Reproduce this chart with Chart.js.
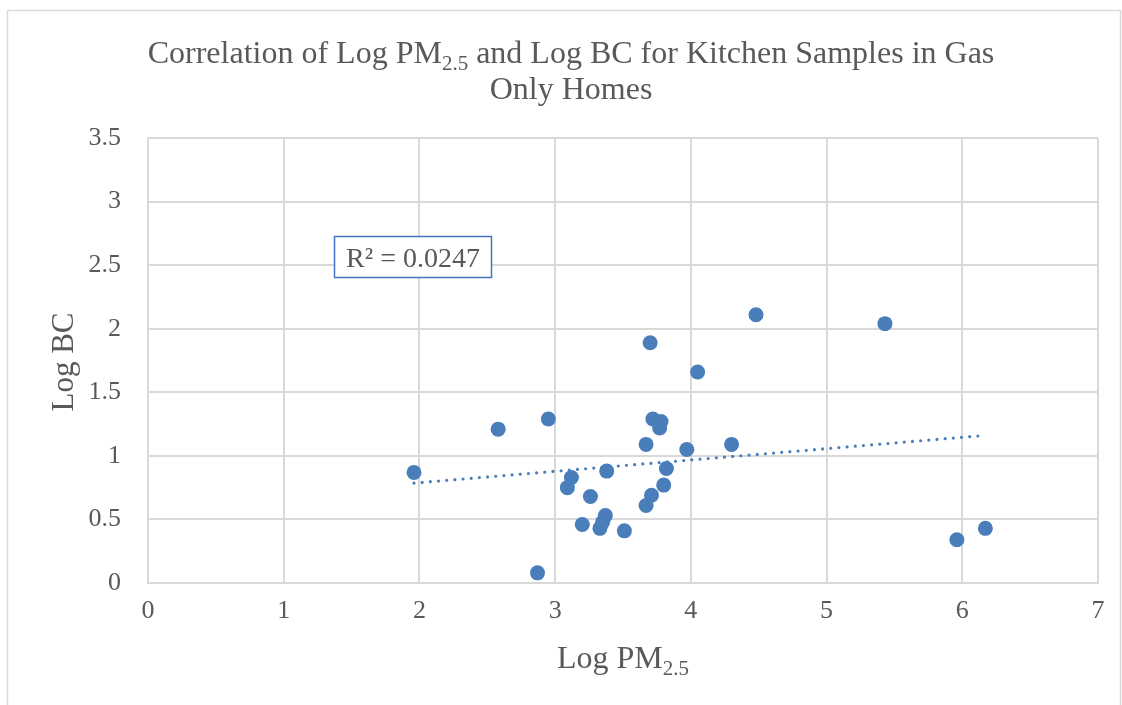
<!DOCTYPE html>
<html>
<head>
<meta charset="utf-8">
<script src="https://cdn.jsdelivr.net/npm/chart.js@4.4.1/dist/chart.umd.min.js"></script>
<style>
  html, body { margin: 0; background: #fff; }
  #wrap { width: 1122px; height: 705px; }
</style>
</head>
<body>
<div id="wrap"><canvas id="chart" width="1122" height="705"></canvas></div>
<script>
// ── Data ─────────────────────────────────────────────────────────────────────
const logPM = [1.96, 2.58, 2.95, 2.87, 3.72, 3.78, 3.77, 3.67, 3.97, 4.30,
               3.82, 3.12, 3.09, 3.38, 3.80, 3.71, 3.67, 3.26, 3.37, 3.35,
               3.33, 3.20, 3.51, 3.70, 4.05, 4.48, 5.43, 5.96, 6.17]
const logBC = [0.87, 1.21, 1.29, 0.08, 1.29, 1.27, 1.22, 1.09, 1.05, 1.09,
               0.90, 0.83, 0.75, 0.88, 0.77, 0.69, 0.61, 0.68, 0.53, 0.48,
               0.43, 0.46, 0.41, 1.89, 1.66, 2.11, 2.04, 0.34, 0.43]
const xRange = [0, 7]
const yRange = [0, 3.5]
const r2Label = 'R² = 0.0247'

const FONT = '"Liberation Serif", "Times New Roman", serif'
const TEXT = '#595959'
const GRID = '#d9d9d9'
const BLUE = '#4a7ebb'

// ── Linear trendline (least squares) ─────────────────────────────────────────
const n = logPM.length
const mx = logPM.reduce((a, b) => a + b, 0) / n
const my = logBC.reduce((a, b) => a + b, 0) / n
let sxy = 0, sxx = 0
logPM.forEach((x, i) => { sxy += (x - mx) * (logBC[i] - my); sxx += (x - mx) ** 2 })
const slope = sxy / sxx
const icpt = my - slope * mx
const xMin = Math.min(...logPM), xMax = Math.max(...logPM)
const trend = [xMin, xMax].map(x => ({ x, y: icpt + slope * x }))

const points = logPM.map((x, i) => ({ x, y: logBC[i] }))

// draw a run of text parts, some subscripted, centred on cx
function richText(ctx, parts, cx, cy, size) {
    const subSize = Math.round(size * 0.66)
    let w = 0
    parts.forEach(p => {
        ctx.font = `${p.sub ? subSize : size}px ${FONT}`
        p.w = ctx.measureText(p.t).width
        w += p.w
    })
    let x = cx - w / 2
    ctx.textAlign = 'left'
    ctx.textBaseline = 'alphabetic'
    parts.forEach(p => {
        ctx.font = `${p.sub ? subSize : size}px ${FONT}`
        ctx.fillText(p.t, x, cy + (p.sub ? size * 0.22 : 0))
        x += p.w
    })
}

const decorations = {
    id: 'decorations',
    beforeDraw(chart) {
        const ctx = chart.ctx
        ctx.save()
        ctx.strokeStyle = GRID
        ctx.lineWidth = 1.5
        ctx.strokeRect(7.5, 10.5, 1113, 700)
        ctx.restore()
    },
    afterDraw(chart) {
        const ctx = chart.ctx
        ctx.save()
        ctx.fillStyle = TEXT
        richText(ctx, [
            { t: 'Correlation of Log PM' }, { t: '2.5', sub: true },
            { t: ' and Log BC for Kitchen Samples in Gas' }
        ], 571, 63, 32)
        richText(ctx, [{ t: 'Only Homes' }], 571, 99, 32)

        richText(ctx, [{ t: 'Log PM' }, { t: '2.5', sub: true }], 623, 668, 32)

        ctx.save()
        ctx.translate(73, 362)
        ctx.rotate(-Math.PI / 2)
        richText(ctx, [{ t: 'Log BC' }], 0, 0, 31)
        ctx.restore()

        // R² label box
        ctx.fillStyle = '#fff'
        ctx.fillRect(334, 236, 158, 42)
        ctx.strokeStyle = '#4472c4'
        ctx.lineWidth = 1.5
        ctx.strokeRect(334.5, 236.5, 157, 41)
        ctx.fillStyle = TEXT
        richText(ctx, [{ t: r2Label }], 413, 267, 28)
        ctx.restore()
    }
}

new Chart(document.getElementById('chart'), {
    type: 'scatter',
    data: {
        datasets: [
            {
                type: 'line',
                data: trend,
                borderColor: BLUE,
                borderWidth: 3.2,
                borderDash: [0, 8.2],
                borderCapStyle: 'round',
                pointRadius: 0,
                fill: false,
            },
            {
                data: points,
                backgroundColor: BLUE,
                borderColor: BLUE,
                borderWidth: 0,
                pointRadius: 7.5,
            },
        ],
    },
    options: {
        responsive: false,
        animation: false,
        events: [],
        layout: { padding: { left: 0, top: 138, right: 24, bottom: 0 } },
        plugins: { legend: { display: false }, tooltip: { enabled: false }, title: { display: false } },
        scales: {
            x: {
                type: 'linear', min: xRange[0], max: xRange[1],
                afterFit: s => { s.height = 122 },
                grid: { color: GRID, lineWidth: 2, drawTicks: false },
                border: { color: GRID, width: 2 },
                ticks: { stepSize: 1, padding: 13, color: TEXT, font: { family: FONT, size: 26 } },
            },
            y: {
                type: 'linear', min: yRange[0], max: yRange[1],
                afterFit: s => { s.width = 148 },
                grid: { color: GRID, lineWidth: 2, drawTicks: false },
                border: { color: GRID, width: 2 },
                ticks: {
                    stepSize: 0.5, padding: 27, color: TEXT, font: { family: FONT, size: 26 },
                    callback: v => String(+v.toFixed(1)),
                },
            },
        },
    },
    plugins: [decorations],
})
</script>
</body>
</html>
